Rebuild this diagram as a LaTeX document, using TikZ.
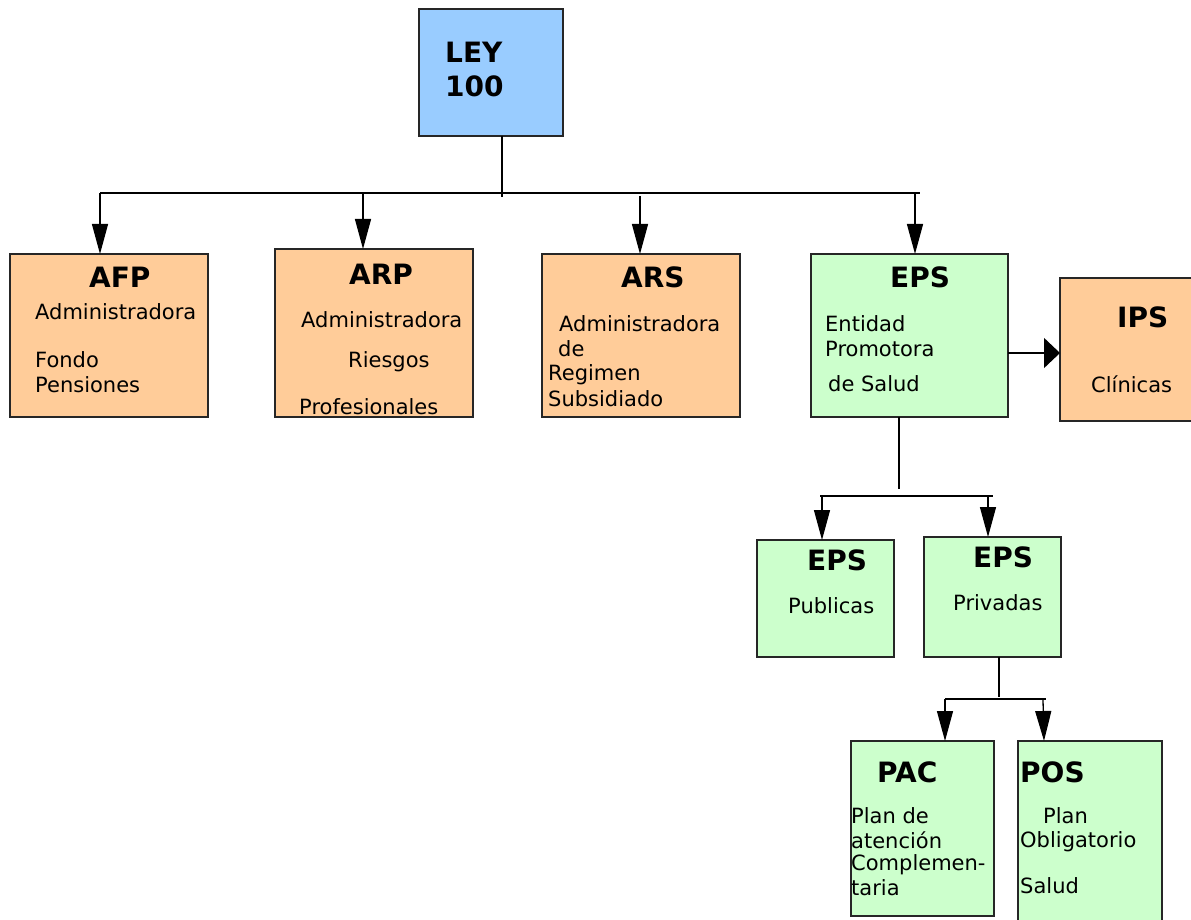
\documentclass[tikz,border=0pt]{standalone}
\usepackage{fontspec}
\setmainfont{DejaVu Sans}
\usetikzlibrary{arrows.meta}
\definecolor{orangebox}{HTML}{FFCC99}
\definecolor{greenbox}{HTML}{CCFFCC}
\definecolor{bluebox}{HTML}{99CCFF}
\begin{document}
\begin{tikzpicture}[x=1pt,y=-1pt,
 box/.style={draw=black!85, line width=1.3pt, rectangle, anchor=north west, inner sep=0pt, outer sep=0pt},
 obox/.style={box, fill=orangebox},
 gbox/.style={box, fill=greenbox},
 bbox/.style={box, fill=bluebox},
 ttl/.style={anchor=base west, inner sep=0pt, font=\bfseries\fontsize{28}{28}\selectfont},
 txt/.style={anchor=base west, inner sep=0pt, font=\fontsize{21}{21}\selectfont},
 conn/.style={line width=1.3pt},
 arr/.style={line width=1.3pt, -{Triangle[length=30pt,width=16pt]}},
 sidearr/.style={line width=1.3pt, -{Triangle[length=16pt,width=30pt]}},
]
\useasboundingbox (0,0) rectangle (1191,920);
\clip (0,0) rectangle (1191,920);
\fill[white] (0,0) rectangle (1191,920);

% boxes
\node[bbox, minimum width=144pt, minimum height=127pt] (ley) at (419,9) {};
\node[obox, minimum width=198pt, minimum height=163pt] (afp) at (10,254) {};
\node[obox, minimum width=198pt, minimum height=168pt] (arp) at (275,249) {};
\node[obox, minimum width=198pt, minimum height=163pt] (ars) at (542,254) {};
\node[gbox, minimum width=197pt, minimum height=163pt] (eps) at (811,254) {};
\node[obox, minimum width=145pt, minimum height=143pt] (ips) at (1060,278) {};
\node[gbox, minimum width=137pt, minimum height=117pt] (pub) at (757,540) {};
\node[gbox, minimum width=137pt, minimum height=120pt] (priv) at (924,537) {};
\node[gbox, minimum width=143pt, minimum height=175pt] (pac) at (851,741) {};
\node[gbox, minimum width=144pt, minimum height=195pt] (pos) at (1018,741) {};

% texts
\node[ttl] (leyA) at (445,63) {LEY};
\node[ttl] (leyB) at (445,97) {100};

\node[ttl] (afpT) at (89,287) {AFP};
\node[txt] (afp1) at (35,319) {Administradora};
\node[txt] (afp2) at (35,367) {Fondo};
\node[txt] (afp3) at (35,392) {Pensiones};

\node[ttl] (arpT) at (349,284) {ARP};
\node[txt] (arp1) at (301,327) {Administradora};
\node[txt] (arp2) at (348,367) {Riesgos};
\node[txt] (arp3) at (299,414) {Profesionales};

\node[ttl] (arsT) at (621,287) {ARS};
\node[txt] (ars1) at (559,331) {Administradora};
\node[txt] (ars2) at (558,356) {de};
\node[txt] (ars3) at (548,380) {Regimen};
\node[txt] (ars4) at (548,406) {Subsidiado};

\node[ttl] (epsT) at (890,287) {EPS};
\node[txt] (eps1) at (825,331) {Entidad};
\node[txt] (eps2) at (825,356) {Promotora};
\node[txt] (eps3) at (828,391) {de Salud};

\node[ttl] (ipsT) at (1117,327) {IPS};
\node[txt] (ips1) at (1091,392) {Clínicas};

\node[ttl] (pubT) at (807,570) {EPS};
\node[txt] (pub1) at (788,613) {Publicas};

\node[ttl] (privT) at (973,567) {EPS};
\node[txt] (priv1) at (953,610) {Privadas};

\node[ttl] (pacT) at (877,782) {PAC};
\node[txt] (pac1) at (851,823) {Plan de};
\node[txt] (pac2) at (851,848) {atención};
\node[txt] (pac3) at (851,870) {Complemen-};
\node[txt] (pac4) at (851,895) {taria};

\node[ttl] (posT) at (1020,782) {POS};
\node[txt] (pos1) at (1043,823) {Plan};
\node[txt] (pos2) at (1020,847) {Obligatorio};
\node[txt] (pos3) at (1020,893) {Salud};

% connectors, level 1
\coordinate (j0) at (502,197);
\coordinate (bL) at (100,193);
\coordinate (bR) at (920,193);
\coordinate (a1) at (100,193);
\coordinate (a2) at (363,193);
\coordinate (a3) at (640,196);
\coordinate (a4) at (915,193);
\draw[conn] (j0 |- ley.south) -- (j0);
\draw[conn] (bL) -- (bR);
\draw[arr] (a1) -- (a1 |- afp.north);
\draw[arr] (a2) -- (a2 |- arp.north);
\draw[arr] (a3) -- (a3 |- ars.north);
\draw[arr] (a4) -- (a4 |- eps.north);

% EPS -> IPS
\coordinate (e1) at (1008,353);
\draw[sidearr] (e1) -- (e1 -| ips.west);

% level 2
\coordinate (j1) at (899,489);
\coordinate (cL) at (820,496);
\coordinate (cR) at (993,496);
\coordinate (a5) at (822,496);
\coordinate (a6) at (988,496);
\draw[conn] (j1 |- eps.south) -- (j1);
\draw[conn] (cL) -- (cR);
\draw[arr] (a5) -- (a5 |- pub.north);
\draw[arr] (a6) -- (a6 |- priv.north);

% level 3
\coordinate (j2) at (999,697);
\coordinate (dL) at (945,699);
\coordinate (dR) at (1046,699);
\coordinate (a7) at (945,699);
\coordinate (a8) at (1043,700);
\coordinate (t8) at (1044,741);
\draw[conn] (j2 |- priv.south) -- (j2);
\draw[conn] (dL) -- (dR);
\draw[arr] (a7) -- (a7 |- pac.north);
\draw[arr] (a8) -- (t8);
\end{tikzpicture}
\end{document}
